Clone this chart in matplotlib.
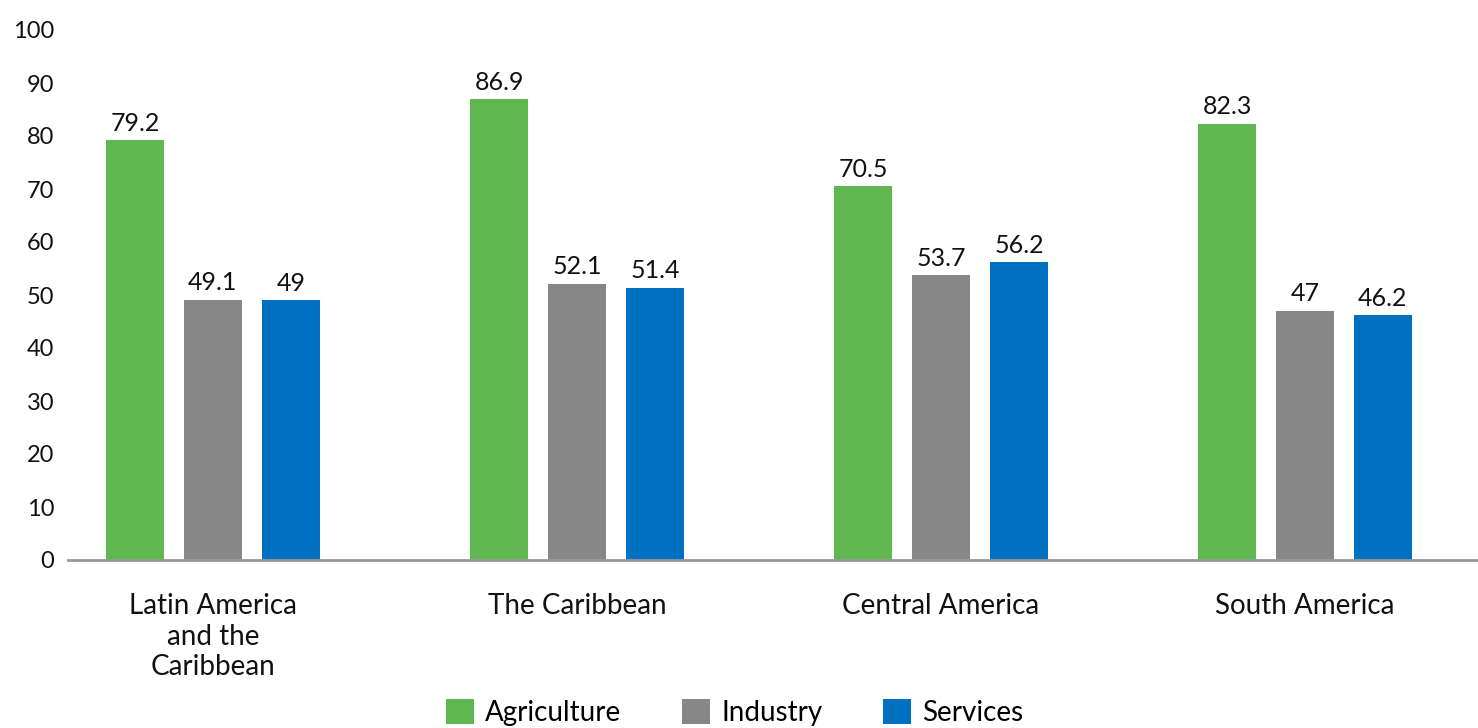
import numpy as np
import matplotlib.pyplot as plt

plt.rcParams['font.family'] = ['Lato', 'DejaVu Sans']

# Data
regions = ["Latin America\nand the\nCaribbean", "The Caribbean", "Central America", "South America"]
agriculture = [79.2, 86.9, 70.5, 82.3]
industry = [49.1, 52.1, 53.7, 47]
services = [49, 51.4, 56.2, 46.2]
series_names = ["Agriculture", "Industry", "Services"]
colors = ["#62B850", "#878787", "#0070C0"]

fig = plt.figure(figsize=(14.78, 7.28), dpi=100)
ax = fig.add_axes([68 / 1478, 1 - 560 / 728, 1 - 68 / 1478, (560 - 30) / 728])

x = np.arange(len(regions))
width = 0.159
offset = 0.214

for i, (vals, name, col) in enumerate(zip([agriculture, industry, services], series_names, colors)):
    bars = ax.bar(x + (i - 1) * offset, vals, width, color=col, label=name)
    ax.bar_label(bars, labels=[f"{v:g}" for v in vals], padding=4, fontsize=18, color="#111111")

ax.set_xlim(-0.398, 3.475)
ax.set_ylim(0, 100)
ax.set_yticks(range(0, 101, 10))
ax.set_xticks(x)
ax.set_xticklabels(regions, fontsize=20, linespacing=1.2)
ax.tick_params(axis="y", length=0, pad=10, labelsize=17, labelcolor="#111111")
ax.tick_params(axis="x", length=0, pad=24, labelcolor="#111111")

for s in ["top", "right", "left"]:
    ax.spines[s].set_visible(False)
ax.spines["bottom"].set_color("#999999")
ax.spines["bottom"].set_linewidth(2)

fig.legend(loc="center", bbox_to_anchor=(0.497, 0.021), ncol=3, frameon=False,
           fontsize=20, handlelength=1.0, handleheight=1.0, columnspacing=2.2, handletextpad=0.4,
           borderpad=0.1)

fig.savefig("out.png", dpi=100)
